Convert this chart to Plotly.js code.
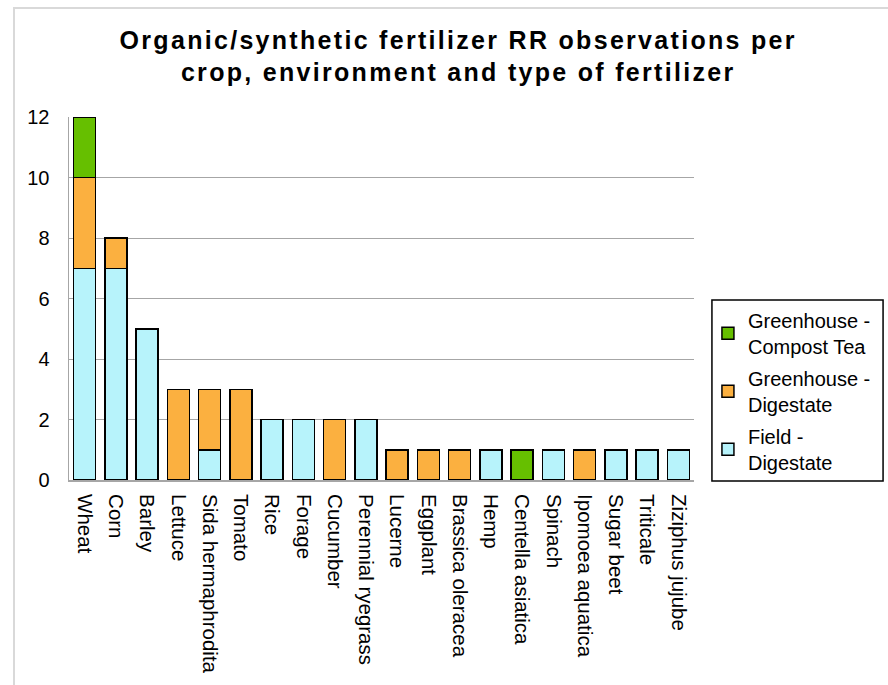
<!DOCTYPE html>
<html>
<head>
<meta charset="utf-8">
<script src="https://cdn.plot.ly/plotly-3.0.1.min.js"></script>
<style>
  html, body { margin: 0; padding: 0; background: #ffffff; }
  #chart { width: 888px; height: 685px; position: absolute; left: 0; top: 0; }
  #frame { position: absolute; left: 13px; top: 7px; width: 900px; height: 700px;
           border-left: 2px solid #d9d9d9; border-top: 2px solid #d9d9d9; pointer-events: none; }
  #chart .gtitle { letter-spacing: 2.3px; }
</style>
</head>
<body>
<div id="chart"></div>
<div id="frame"></div>
<script>
const crops = ["Wheat", "Corn", "Barley", "Lettuce", "Sida hermaphrodita", "Tomato", "Rice", "Forage",
  "Cucumber", "Perennial ryegrass", "Lucerne", "Eggplant", "Brassica oleracea", "Hemp",
  "Centella asiatica", "Spinach", "Ipomoea aquatica", "Sugar beet", "Triticale", "Ziziphus jujube"];
const fieldDigestate =      [7, 7, 5, null, 1, null, 2, 2, null, 2, null, null, null, 1, null, 1, null, 1, 1, 1];
const greenhouseDigestate = [3, 1, null, 3, 2, 3, null, null, 2, null, 1, 1, 1, null, null, null, 1, null, null, null];
const greenhouseCompostTea = [2, null, null, null, null, null, null, null, null, null, null, null, null, null, 1, null, null, null, null, null];
const seriesNames = ["Field -<br>Digestate", "Greenhouse -<br>Digestate", "Greenhouse -<br>Compost Tea"];
const seriesColors = ["#b7f3fb", "#fbb040", "#66bf00"];
const yTicks = [0, 2, 4, 6, 8, 10, 12];

const seriesValues = [fieldDigestate, greenhouseDigestate, greenhouseCompostTea];
const traces = seriesValues.map((vals, i) => ({
  type: "bar",
  x: crops,
  y: vals,
  name: seriesNames[i],
  legendgroup: "g" + i,
  legendrank: 1000 - i,
  marker: { color: seriesColors[i], line: { color: "#000000", width: 1.5 } },
  hoverinfo: "x+y+name"
}));

const layout = {
  width: 888, height: 685,
  paper_bgcolor: "#ffffff", plot_bgcolor: "#ffffff",
  margin: { l: 69, r: 191, t: 117, b: 205 },
  barmode: "stack",
  bargap: 0.30,
  font: { family: "Liberation Sans, Arial, sans-serif", size: 20, color: "#000000" },
  title: {
    text: "Organic/synthetic fertilizer RR observations per<br>crop, environment and type of fertilizer",
    font: { family: "Liberation Sans, Arial, sans-serif", size: 25, weight: "bold", color: "#000000" },
    x: 0.516, xref: "container", xanchor: "center",
    y: 0.9285, yref: "container", yanchor: "top"
  },
  xaxis: {
    type: "category",
    tickangle: 90,
    showgrid: false,
    showline: true, linecolor: "#a6a6a6", linewidth: 2,
    ticks: "", ticklabelstandoff: 8,
    tickfont: { size: 20.5 },
    automargin: false
  },
  yaxis: {
    range: [0, 12],
    tickvals: yTicks,
    showgrid: true, gridcolor: "#a6a6a6", gridwidth: 1,
    showline: true, linecolor: "#a6a6a6", linewidth: 1.5,
    zeroline: false,
    ticks: "", ticklabelstandoff: 14,
    tickfont: { size: 20 },
    automargin: false
  },
  legend: {
    x: 1.0223, xanchor: "left", xref: "paper",
    y: 0.4935, yanchor: "top", yref: "paper",
    traceorder: "grouped",
    borderwidth: 0,
    bgcolor: "rgba(0,0,0,0)",
    font: { size: 20 },
    itemwidth: 30,
    tracegroupgap: 3
  },
  shapes: [{
    type: "rect", xref: "paper", yref: "paper",
    x0: 1.0287, x1: 1.3025, y0: -0.003, y1: 0.4959,
    line: { color: "#000000", width: 1.5 }, fillcolor: "rgba(0,0,0,0)", layer: "above"
  }],
  showlegend: true
};

Plotly.newPlot("chart", traces, layout, { displayModeBar: false, staticPlot: true });
</script>
</body>
</html>
